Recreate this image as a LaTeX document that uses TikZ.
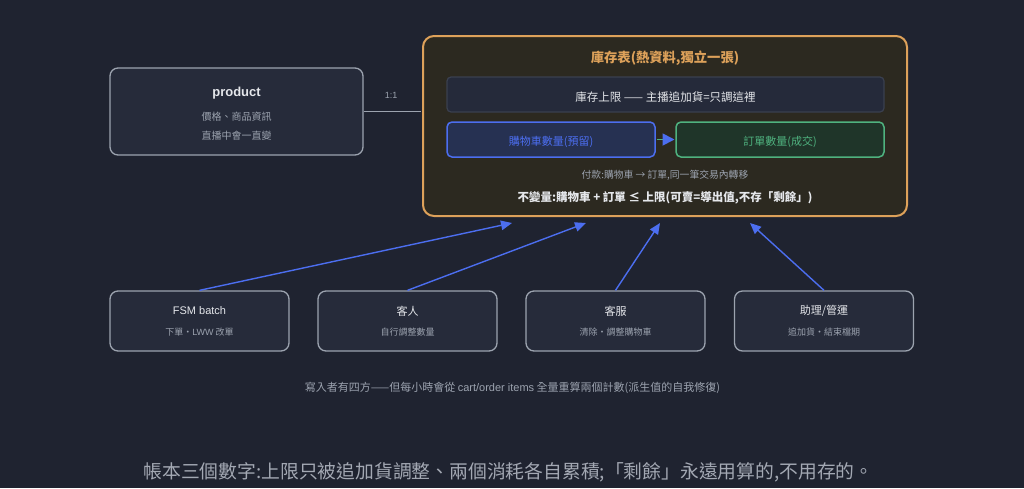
\documentclass[tikz,border=0pt]{standalone}
\usepackage{fontspec}
\setmainfont{Noto Sans CJK TC}
\newfontfamily\latf{Liberation Sans}
\usetikzlibrary{arrows.meta}
\definecolor{bg}{HTML}{1F2330}
\definecolor{boxfill}{HTML}{262B3A}
\definecolor{boxline}{HTML}{9CA3AF}
\definecolor{orangeC}{HTML}{DDA15A}
\definecolor{bigfill}{HTML}{2C2920}
\definecolor{limfill}{HTML}{252A3A}
\definecolor{limline}{HTML}{3A404F}
\definecolor{blueC}{HTML}{4C6EF0}
\definecolor{cartfill}{HTML}{263152}
\definecolor{greenC}{HTML}{4FB27F}
\definecolor{orderfill}{HTML}{1F3529}
\definecolor{txtW}{HTML}{E5E7EB}
\definecolor{txtG}{HTML}{9CA3AF}
\definecolor{txtC}{HTML}{A3A8B3}
\tikzset{
  card/.style={draw=boxline, fill=boxfill, line width=1.3pt, rounded corners=8pt, inner sep=0pt},
  ttl/.style={text=txtW, font=\fontsize{11}{13}\selectfont, inner sep=0pt, anchor=center},
  sub/.style={text=txtG, font=\fontsize{9}{11}\selectfont, inner sep=0pt, anchor=center},
  wire/.style={draw=blueC, line width=1.4pt, -{Triangle[length=11pt,width=9.5pt]}},
}
\begin{document}
\begin{tikzpicture}[x=1pt,y=-1pt]
\fill[bg] (0,0) rectangle (1024,488);
\useasboundingbox (0,0) rectangle (1024,488);

% product
\node[card, minimum width=253pt, minimum height=87pt] (prod) at (236.5,111.5) {};
\node[text=txtW, font=\fontsize{13}{15}\selectfont\bfseries\latf, inner sep=0pt] (prodT) at (236.5,93) {product};
\node[sub, font=\fontsize{10}{12}\selectfont] (prodA) at (236.5,117) {價格、商品資訊};
\node[sub, font=\fontsize{10}{12}\selectfont] (prodB) at (236.5,136) {直播中會一直變};

% big inventory box
\node[draw=orangeC, fill=bigfill, line width=2pt, rounded corners=11pt, minimum width=484pt, minimum height=180pt, inner sep=0pt] (big) at (665,126) {};
\node[text=orangeC, font=\fontsize{13.3}{15}\selectfont\bfseries, inner sep=0pt] (bigT) at (665,58) {庫存表(熱資料,獨立一張)};
\node[draw=limline, fill=limfill, line width=1.2pt, rounded corners=4pt, minimum width=437pt, minimum height=35pt, inner sep=0pt] (lim) at (665.5,94.5) {};
\node[text=txtW, font=\fontsize{11.5}{13}\selectfont, inner sep=0pt] (limT) at (665.5,97) {庫存上限 —— 主播追加貨=只調這裡};
\node[draw=blueC, fill=cartfill, line width=1.5pt, rounded corners=5pt, minimum width=208pt, minimum height=35pt, inner sep=0pt] (cart) at (551,139.5) {};
\node[text=blueC, font=\fontsize{11}{13}\selectfont, inner sep=0pt] (cartT) at (551,142) {購物車數量(預留)};
\node[draw=greenC, fill=orderfill, line width=1.5pt, rounded corners=5pt, minimum width=208pt, minimum height=35pt, inner sep=0pt] (order) at (780,139.5) {};
\node[text=greenC, font=\fontsize{11}{13}\selectfont, inner sep=0pt] (orderT) at (780,142) {訂單數量(成交)};
\draw[draw=greenC, line width=1.8pt, -{Triangle[length=12pt,width=12pt,color=blueC,fill=blueC]}, shorten <=0.75pt, shorten >=0.75pt] (cart.east) -- (order.west);
\node[text=txtG, font=\fontsize{9.8}{12}\selectfont, inner sep=0pt] (payT) at (665,175) {付款:購物車 → 訂單,同一筆交易內轉移};
\node[text=txtW, font=\fontsize{11.5}{13}\selectfont\bfseries, inner sep=0pt] (invT) at (665,198) {不變量:購物車 + 訂單 ≤ 上限(可賣=導出值,不存「剩餘」)};

% product link
\coordinate (pe) at (prod.east -| big.west);
\draw[draw=boxline, line width=1.3pt, shorten >=1.5pt] (prod.east) -- (pe);
\node[text=txtG, font=\fontsize{9}{11}\selectfont\latf, inner sep=0pt] (ratio) at (391,95) {1:1};

% bottom writers
\node[card, minimum width=179pt, minimum height=60pt] (b1) at (199.5,321) {};
\node[card, minimum width=179pt, minimum height=60pt] (b2) at (407.5,321) {};
\node[card, minimum width=179pt, minimum height=60pt] (b3) at (615.5,321) {};
\node[card, minimum width=179pt, minimum height=60pt] (b4) at (824,321) {};
\node[ttl, font=\fontsize{11}{13}\selectfont\latf] (b1T) at (199.5,311) {FSM batch};
\node[sub] (b1S) at (199.5,332) {下單・{\latf LWW} 改單};
\node[ttl] (b2T) at (407.5,311) {客人};
\node[sub] (b2S) at (407.5,332) {自行調整數量};
\node[ttl] (b3T) at (615.5,311) {客服};
\node[sub] (b3S) at (615.5,332) {清除・調整購物車};
\node[ttl] (b4T) at (824,311) {助理/管運};
\node[sub] (b4S) at (824,332) {追加貨・結束檔期};

\coordinate (t1) at (512,223);
\coordinate (t2) at (586,223);
\coordinate (t3) at (660,223);
\coordinate (t4) at (750,223);
\draw[wire] (b1.north) -- (t1);
\draw[wire] (b2.north) -- (t2);
\draw[wire] (b3.north) -- (t3);
\draw[wire] (b4.north) -- (t4);

\node[text=txtG, font=\fontsize{11}{13}\selectfont, inner sep=0pt] (note) at (512.5,388) {寫入者有四方——但每小時會從 {\latf cart/order items} 全量重算兩個計數(派生值的自我修復)};
\node[text=txtC, font=\fontsize{18.8}{22}\selectfont, inner sep=0pt] (caption) at (508.5,472) {帳本三個數字:上限只被追加貨調整、兩個消耗各自累積;「剩餘」永遠用算的,不用存的。};
\end{tikzpicture}
\end{document}
